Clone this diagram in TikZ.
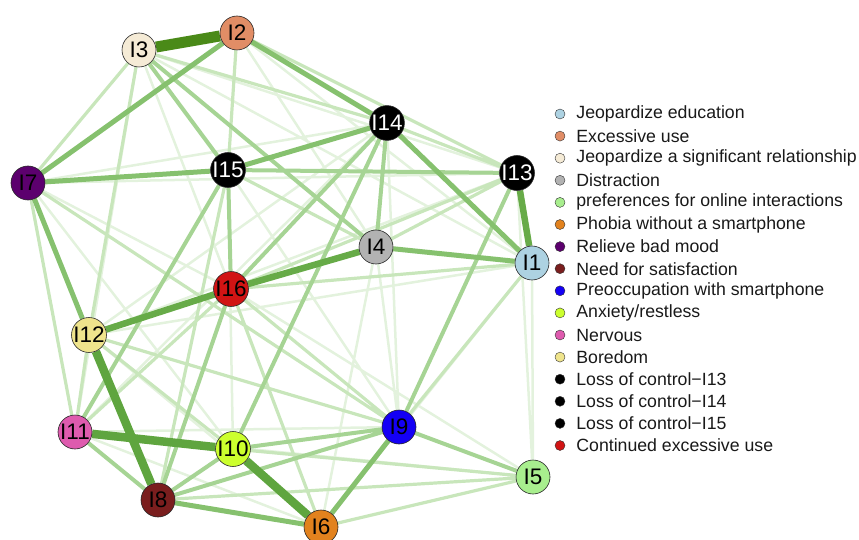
\documentclass[tikz,border=0pt]{standalone}
\usepackage{fontspec}
\setmainfont{Liberation Sans}
\usetikzlibrary{positioning,backgrounds}

\definecolor{cI1}{HTML}{ADD2E2}
\definecolor{cI2}{HTML}{E18D66}
\definecolor{cI3}{HTML}{F5EBD6}
\definecolor{cI4}{HTML}{B2B2B2}
\definecolor{cI5}{HTML}{A8EE8E}
\definecolor{cI6}{HTML}{E2821E}
\definecolor{cI7}{HTML}{5C006E}
\definecolor{cI8}{HTML}{7A1E1E}
\definecolor{cI9}{HTML}{1400F5}
\definecolor{cI10}{HTML}{CCFF2E}
\definecolor{cI11}{HTML}{DE5BAE}
\definecolor{cI12}{HTML}{EFE48C}
\definecolor{cI16}{HTML}{D11414}
\definecolor{gA}{HTML}{4A8A18}
\definecolor{gB}{HTML}{5FA53F}
\definecolor{gC}{HTML}{86C16E}
\definecolor{gD}{HTML}{A6D494}
\definecolor{gE}{HTML}{C8E6BB}
\definecolor{gF}{HTML}{E3F2DD}

\tikzset{
  item/.style={circle,draw=black!85,line width=0.6pt,minimum size=34pt,inner sep=0pt,
    font=\fontsize{22.5}{22.5}\selectfont},
  dot/.style={circle,draw=black!80,line width=0.4pt,minimum size=10pt,inner sep=0pt},
  legtext/.style={font=\fontsize{17.7}{18}\selectfont,text=black!90,inner sep=0pt},
  wA/.style={draw=gA,line width=11pt},
  wB/.style={draw=gB,line width=8.5pt},
  wC/.style={draw=gB!80!gC,line width=6.5pt},
  wD/.style={draw=gC,line width=5pt},
  wE/.style={draw=gD,line width=4pt},
  wF/.style={draw=gE,line width=3.2pt},
  wG/.style={draw=gF,line width=2.5pt}
}

\begin{document}
\begin{tikzpicture}[x=1pt,y=-1pt]
  \useasboundingbox (0,0) rectangle (859,540);

  % items
  \node[item,fill=cI1] (I1) at (532,263) {I1};
  \node[item,fill=cI2] (I2) at (237,33) {I2};
  \node[item,fill=cI3] (I3) at (139,50) {I3};
  \node[item,fill=cI4] (I4) at (376,247) {I4};
  \node[item,fill=cI5] (I5) at (533,477) {I5};
  \node[item,fill=cI6] (I6) at (321,527) {I6};
  \node[item,fill=cI7] (I7) at (28,183) {I7};
  \node[item,fill=cI8] (I8) at (158,500) {I8};
  \node[item,fill=cI9] (I9) at (399,427) {I9};
  \node[item,fill=cI10] (I10) at (233,449) {I10};
  \node[item,fill=cI11] (I11) at (75,432) {I11};
  \node[item,fill=cI12] (I12) at (89,335) {I12};
  \node[item,fill=black,text=white] (I13) at (517,173) {I13};
  \node[item,fill=black,text=white] (I14) at (387,123) {I14};
  \node[item,fill=black,text=white] (I15) at (228,170) {I15};
  \node[item,fill=cI16] (I16) at (231,289) {I16};

  \begin{pgfonlayer}{background}
    % faint
    \draw[wG] (I3) -- (I11) (I3) -- (I16) (I2) -- (I4) (I3) -- (I1)
      (I12) -- (I6) (I11) -- (I6) (I11) -- (I9) (I16) -- (I5)
      (I4) -- (I9) (I4) -- (I6) (I14) -- (I9) (I1) -- (I6)
      (I1) -- (I5) (I13) -- (I5) (I7) -- (I10) (I7) -- (I16)
      (I12) -- (I4) (I12) -- (I1) (I15) -- (I9) (I15) -- (I10)
      (I14) -- (I12) (I14) -- (I11) (I13) -- (I12) (I11) -- (I5)
      (I7) -- (I14) (I7) -- (I13) (I2) -- (I1) (I3) -- (I13);
    % light
    \draw[wF] (I2) -- (I15) (I3) -- (I7) (I3) -- (I12) (I9) -- (I1)
      (I4) -- (I13) (I7) -- (I9) (I12) -- (I9) (I16) -- (I9)
      (I12) -- (I10) (I15) -- (I4) (I8) -- (I5) (I10) -- (I5)
      (I6) -- (I5) (I7) -- (I11) (I12) -- (I11) (I16) -- (I6)
      (I15) -- (I8) (I16) -- (I13) (I3) -- (I14) (I2) -- (I13)
      (I14) -- (I13) (I16) -- (I1) (I12) -- (I16) (I11) -- (I16);
    % medium light
    \draw[wE] (I3) -- (I15) (I15) -- (I16) (I14) -- (I16) (I14) -- (I4)
      (I16) -- (I8) (I9) -- (I5) (I15) -- (I13) (I15) -- (I11)
      (I14) -- (I10) (I8) -- (I9) (I10) -- (I9) (I3) -- (I4)
      (I8) -- (I10) (I11) -- (I8) (I9) -- (I13);
    % medium
    \draw[wD] (I2) -- (I14) (I14) -- (I1) (I14) -- (I15) (I15) -- (I7)
      (I4) -- (I1) (I9) -- (I6) (I8) -- (I6)
      (I2) -- (I7) (I7) -- (I12);
    % strong
    \draw[wC] (I13) -- (I1) (I16) -- (I12) (I16) -- (I4);
    \draw[wB] (I11) -- (I10) (I10) -- (I6) (I12) -- (I8);
    \draw[wA] (I3) -- (I2);
  \end{pgfonlayer}

  % legend
  \node[dot,fill=cI1] (l1) at (560,114) {};
  \node[dot,fill=cI2] (l2) at (560,136.1) {};
  \node[dot,fill=cI3] (l3) at (560,158.2) {};
  \node[dot,fill=cI4] (l4) at (560,180.3) {};
  \node[dot,fill=cI5] (l5) at (560,202.4) {};
  \node[dot,fill=cI6] (l6) at (560,224.5) {};
  \node[dot,fill=cI7] (l7) at (560,246.6) {};
  \node[dot,fill=cI8] (l8) at (560,268.7) {};
  \node[dot,fill=cI9] (l9) at (560,290.8) {};
  \node[dot,fill=cI10] (l10) at (560,312.9) {};
  \node[dot,fill=cI11] (l11) at (560,335.0) {};
  \node[dot,fill=cI12] (l12) at (560,357.1) {};
  \node[dot,fill=black] (l13) at (560,379.2) {};
  \node[dot,fill=black] (l14) at (560,401.3) {};
  \node[dot,fill=black] (l15) at (560,423.4) {};
  \node[dot,fill=cI16] (l16) at (560,445.5) {};

  \node[legtext] (t1) [right=11pt of l1] {Jeopardize education};
  \node[legtext] (t2) [right=11pt of l2] {Excessive use};
  \node[legtext] (t3) [right=11pt of l3] {Jeopardize a significant relationship};
  \node[legtext] (t4) [right=11pt of l4] {Distraction};
  \node[legtext] (t5) [right=11pt of l5] {preferences for online interactions};
  \node[legtext] (t6) [right=11pt of l6] {Phobia without a smartphone};
  \node[legtext] (t7) [right=11pt of l7] {Relieve bad mood};
  \node[legtext] (t8) [right=11pt of l8] {Need for satisfaction};
  \node[legtext] (t9) [right=11pt of l9] {Preoccupation with smartphone};
  \node[legtext] (t10) [right=11pt of l10] {Anxiety/restless};
  \node[legtext] (t11) [right=11pt of l11] {Nervous};
  \node[legtext] (t12) [right=11pt of l12] {Boredom};
  \node[legtext] (t13) [right=11pt of l13] {Loss of control\textminus I13};
  \node[legtext] (t14) [right=11pt of l14] {Loss of control\textminus I14};
  \node[legtext] (t15) [right=11pt of l15] {Loss of control\textminus I15};
  \node[legtext] (t16) [right=11pt of l16] {Continued excessive use};
\end{tikzpicture}
\end{document}
